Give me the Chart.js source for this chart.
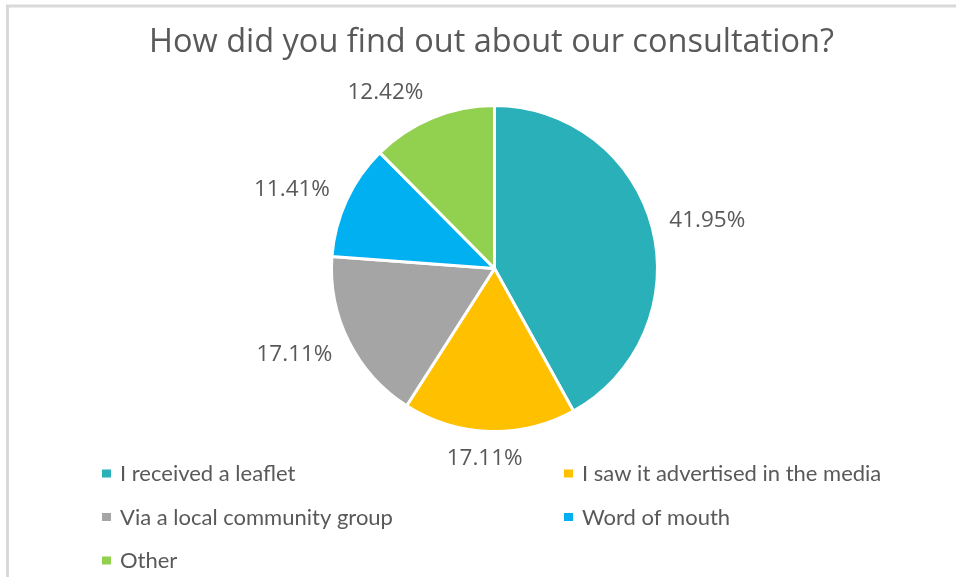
<!DOCTYPE html>
<html>
<head>
<meta charset="utf-8">
<title>How did you find out about our consultation?</title>
<script src="https://cdn.jsdelivr.net/npm/chart.js@4/dist/chart.umd.min.js"></script>
<style>
  html, body { margin: 0; padding: 0; background: #ffffff; }
  #wrap { position: relative; width: 956px; height: 577px; }
  canvas { display: block; }
</style>
</head>
<body>
<div id="wrap"><canvas id="chart" width="956" height="577"></canvas></div>
<script>
// Survey responses (share of respondents, %)
const chartTitle = 'How did you find out about our consultation?';
const categories = [
  'I received a leaflet',
  'I saw it advertised in the media',
  'Via a local community group',
  'Word of mouth',
  'Other'
];
const shares = [41.95, 17.11, 17.11, 11.41, 12.42];
const sliceColors = ['#2AB0B8', '#FFC000', '#A5A5A5', '#00B0F0', '#92D050'];

const TEXT_COLOR = '#595959';

// Light frame along the top and left edges
const framePlugin = {
  id: 'frame',
  beforeDraw(chart) {
    const ctx = chart.ctx;
    ctx.save();
    ctx.fillStyle = '#ffffff';
    ctx.fillRect(0, 0, chart.width, chart.height);
    ctx.strokeStyle = '#D9D9D9';
    ctx.lineWidth = 3;
    ctx.beginPath();
    ctx.moveTo(7.5, chart.height + 5);
    ctx.lineTo(7.5, 6);
    ctx.lineTo(chart.width + 5, 6);
    ctx.stroke();
    ctx.restore();
  }
};

// Title text above the pie
const titlePlugin = {
  id: 'topTitle',
  afterDraw(chart, args, opts) {
    const ctx = chart.ctx;
    ctx.save();
    ctx.font = opts.font;
    ctx.fillStyle = TEXT_COLOR;
    ctx.textAlign = 'center';
    ctx.textBaseline = 'alphabetic';
    ctx.fillText(opts.text, opts.x, opts.y);
    ctx.restore();
  }
};

// Percentage labels placed just outside each slice
const outsideLabels = {
  id: 'outsideLabels',
  afterDatasetsDraw(chart, args, opts) {
    const ctx = chart.ctx;
    const meta = chart.getDatasetMeta(0);
    const values = chart.data.datasets[0].data;
    ctx.save();
    ctx.font = opts.font;
    ctx.fillStyle = TEXT_COLOR;
    ctx.textAlign = 'center';
    ctx.textBaseline = 'middle';
    meta.data.forEach((arc, i) => {
      const p = arc.getProps(['x', 'y', 'startAngle', 'endAngle', 'outerRadius'], true);
      const mid = (p.startAngle + p.endAngle) / 2;
      const text = values[i].toFixed(2) + '%';
      const w = ctx.measureText(text).width;
      const h = opts.boxHeight;
      const r = p.outerRadius + opts.gap;
      const nudge = opts.nudge[i] || [0, 0];
      const cx = p.x + Math.cos(mid) * (r + w / 2 * Math.abs(Math.cos(mid))) + nudge[0];
      const cy = p.y + Math.sin(mid) * r + Math.sin(mid) * h / 2 + nudge[1];
      ctx.fillText(text, cx, cy);
    });
    ctx.restore();
  }
};

// Two-column legend under the pie
const gridLegend = {
  id: 'gridLegend',
  afterDraw(chart, args, opts) {
    const ctx = chart.ctx;
    const labels = chart.data.labels;
    const colors = chart.data.datasets[0].backgroundColor;
    ctx.save();
    ctx.font = opts.font;
    ctx.textAlign = 'left';
    ctx.textBaseline = 'middle';
    labels.forEach((label, i) => {
      const col = i % 2;
      const row = Math.floor(i / 2);
      const x = opts.columns[col];
      const y = opts.top + row * opts.rowHeight;
      ctx.fillStyle = colors[i];
      ctx.fillRect(x, y - opts.box / 2, opts.box, opts.box - 1);
      ctx.fillStyle = TEXT_COLOR;
      ctx.fillText(label, x + opts.box + opts.textGap, y);
    });
    ctx.restore();
  }
};

new Chart(document.getElementById('chart'), {
  type: 'pie',
  data: {
    labels: categories,
    datasets: [{
      data: shares,
      backgroundColor: sliceColors,
      borderColor: '#ffffff',
      borderWidth: 3
    }]
  },
  options: {
    responsive: false,
    animation: false,
    layout: { padding: { top: 104, bottom: 144, left: 33, right: 0 } },
    plugins: {
      legend: { display: false },
      tooltip: { enabled: false },
      topTitle: {
        text: chartTitle,
        font: '32.5px "Open Sans", sans-serif',
        x: 491.5,
        y: 52
      },
      outsideLabels: {
        font: '22.5px "Open Sans", sans-serif',
        gap: 20,
        boxHeight: 18,
        nudge: [[0, 0], [-4, -2], [-6, 0], [-5, 1], [-34, 2]]
      },
      gridLegend: {
        font: '22px Lato, sans-serif',
        columns: [102, 564],
        top: 474,
        rowHeight: 43.5,
        box: 9,
        textGap: 9
      }
    }
  },
  plugins: [framePlugin, outsideLabels, titlePlugin, gridLegend]
});
</script>
</body>
</html>
